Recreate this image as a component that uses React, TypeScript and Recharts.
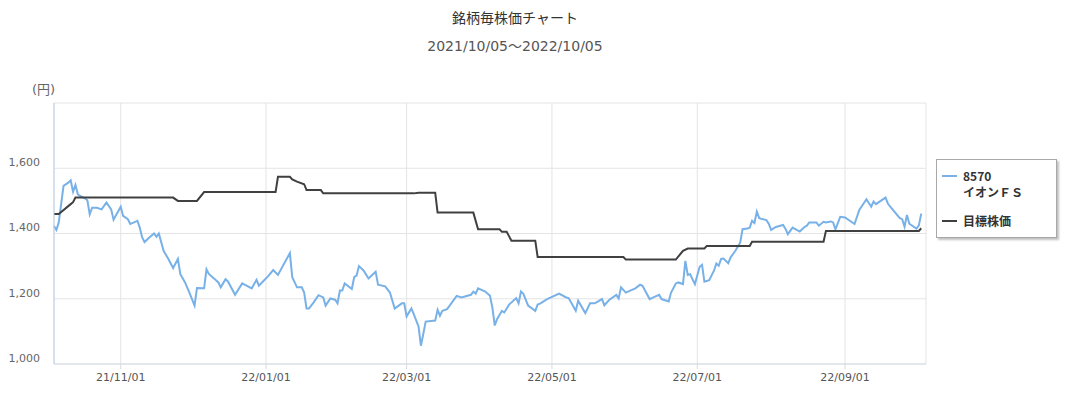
import { LineChart, Line, XAxis, YAxis, CartesianGrid, Legend } from 'recharts'

// 株価 (終値)
const priceDates = [
  '2021-10-04', '2021-10-05', '2021-10-06', '2021-10-08', '2021-10-10', '2021-10-11', '2021-10-12', '2021-10-13',
  '2021-10-14', '2021-10-15', '2021-10-17', '2021-10-18', '2021-10-19', '2021-10-20', '2021-10-22', '2021-10-24',
  '2021-10-26', '2021-10-28', '2021-10-29', '2021-11-01', '2021-11-02', '2021-11-04', '2021-11-05', '2021-11-08',
  '2021-11-09', '2021-11-10', '2021-11-11', '2021-11-13', '2021-11-15', '2021-11-16', '2021-11-17', '2021-11-19',
  '2021-11-21', '2021-11-23', '2021-11-25', '2021-11-26', '2021-11-28', '2021-11-30', '2021-12-02', '2021-12-03',
  '2021-12-06', '2021-12-07', '2021-12-08', '2021-12-11', '2021-12-12', '2021-12-13', '2021-12-15', '2021-12-16',
  '2021-12-19', '2021-12-22', '2021-12-26', '2021-12-28', '2021-12-29', '2021-12-31', '2022-01-02', '2022-01-04',
  '2022-01-06', '2022-01-11', '2022-01-12', '2022-01-14', '2022-01-16', '2022-01-17', '2022-01-18', '2022-01-19',
  '2022-01-21', '2022-01-23', '2022-01-25', '2022-01-26', '2022-01-28', '2022-01-30', '2022-01-31', '2022-02-01',
  '2022-02-02', '2022-02-03', '2022-02-06', '2022-02-07', '2022-02-08', '2022-02-09', '2022-02-11', '2022-02-13',
  '2022-02-16', '2022-02-17', '2022-02-20', '2022-02-22', '2022-02-24', '2022-02-27', '2022-02-28', '2022-03-01',
  '2022-03-03', '2022-03-04', '2022-03-06', '2022-03-07', '2022-03-08', '2022-03-09', '2022-03-13', '2022-03-14',
  '2022-03-15', '2022-03-16', '2022-03-18', '2022-03-22', '2022-03-24', '2022-03-28', '2022-03-29', '2022-03-30',
  '2022-03-31', '2022-04-03', '2022-04-05', '2022-04-06', '2022-04-07', '2022-04-08', '2022-04-10', '2022-04-11',
  '2022-04-13', '2022-04-16', '2022-04-17', '2022-04-18', '2022-04-19', '2022-04-21', '2022-04-24', '2022-04-25',
  '2022-04-26', '2022-04-29', '2022-05-04', '2022-05-07', '2022-05-08', '2022-05-11', '2022-05-12', '2022-05-15',
  '2022-05-17', '2022-05-19', '2022-05-22', '2022-05-23', '2022-05-25', '2022-05-28', '2022-05-29', '2022-05-30',
  '2022-06-01', '2022-06-05', '2022-06-07', '2022-06-08', '2022-06-11', '2022-06-13', '2022-06-15', '2022-06-16',
  '2022-06-19', '2022-06-20', '2022-06-22', '2022-06-23', '2022-06-25', '2022-06-26', '2022-06-27', '2022-06-28',
  '2022-06-30', '2022-07-02', '2022-07-03', '2022-07-04', '2022-07-06', '2022-07-08', '2022-07-09', '2022-07-10',
  '2022-07-11', '2022-07-12', '2022-07-14', '2022-07-15', '2022-07-17', '2022-07-19', '2022-07-20', '2022-07-22',
  '2022-07-23', '2022-07-24', '2022-07-25', '2022-07-26', '2022-07-27', '2022-07-30', '2022-07-31', '2022-08-01',
  '2022-08-03', '2022-08-06', '2022-08-07', '2022-08-08', '2022-08-10', '2022-08-13', '2022-08-15', '2022-08-16',
  '2022-08-17', '2022-08-20', '2022-08-21', '2022-08-23', '2022-08-24', '2022-08-26', '2022-08-27', '2022-08-28',
  '2022-08-30', '2022-09-01', '2022-09-05', '2022-09-07', '2022-09-10', '2022-09-12', '2022-09-13', '2022-09-14',
  '2022-09-18', '2022-09-19', '2022-09-20', '2022-09-24', '2022-09-25', '2022-09-26', '2022-09-27', '2022-09-28',
  '2022-10-01', '2022-10-02', '2022-10-03',
]
const prices = [
  1423, 1411, 1434, 1546, 1556, 1563, 1528, 1549,
  1520, 1515, 1508, 1502, 1459, 1479, 1479, 1474,
  1495, 1474, 1442, 1482, 1454, 1444, 1429, 1439,
  1418, 1388, 1374, 1388, 1400, 1390, 1400, 1347,
  1322, 1294, 1322, 1276, 1250, 1216, 1179, 1233,
  1232, 1290, 1276, 1257, 1250, 1235, 1260, 1253,
  1212, 1247, 1232, 1258, 1240, 1255, 1270, 1288,
  1273, 1340, 1266, 1235, 1235, 1219, 1170, 1170,
  1189, 1211, 1204, 1179, 1201, 1197, 1186, 1225,
  1225, 1247, 1230, 1266, 1271, 1300, 1286, 1262,
  1283, 1243, 1238, 1219, 1170, 1186, 1186, 1146,
  1170, 1153, 1115, 1056, 1092, 1130, 1133, 1166,
  1148, 1163, 1168, 1209, 1204, 1212, 1222, 1216,
  1232, 1222, 1209, 1173, 1118, 1138, 1163, 1158,
  1182, 1202, 1186, 1222, 1215, 1179, 1163, 1182,
  1185, 1199, 1216, 1204, 1202, 1163, 1194, 1156,
  1186, 1186, 1199, 1180, 1196, 1212, 1201, 1235,
  1219, 1232, 1243, 1240, 1199, 1206, 1212, 1199,
  1192, 1219, 1247, 1250, 1245, 1316, 1273, 1275,
  1245, 1298, 1304, 1252, 1257, 1286, 1308, 1301,
  1322, 1323, 1309, 1327, 1347, 1372, 1413, 1415,
  1418, 1439, 1432, 1467, 1447, 1441, 1430, 1411,
  1420, 1426, 1415, 1398, 1418, 1406, 1420, 1424,
  1434, 1434, 1424, 1436, 1434, 1437, 1434, 1413,
  1451, 1449, 1429, 1472, 1505, 1482, 1498, 1490,
  1510, 1492, 1482, 1447, 1444, 1421, 1457, 1430,
  1415, 1425, 1461,
]

// 目標株価
const targetDates = [
  '2021-10-04', '2021-10-06', '2021-10-11', '2021-10-12', '2021-10-13', '2021-11-23', '2021-11-25', '2021-12-03',
  '2021-12-06', '2022-01-05', '2022-01-06', '2022-01-11', '2022-01-12', '2022-01-14', '2022-01-17', '2022-01-18',
  '2022-01-24', '2022-01-25', '2022-03-04', '2022-03-06', '2022-03-13', '2022-03-14', '2022-03-29', '2022-03-31',
  '2022-04-09', '2022-04-10', '2022-04-12', '2022-04-14', '2022-04-24', '2022-04-25', '2022-05-31', '2022-06-01',
  '2022-06-22', '2022-06-25', '2022-06-27', '2022-07-04', '2022-07-05', '2022-07-23', '2022-07-24', '2022-08-23',
  '2022-08-24', '2022-10-02', '2022-10-03',
]
const targetPrices = [
  1460, 1460, 1490, 1496, 1510, 1510, 1500, 1500,
  1527, 1527, 1574, 1574, 1566, 1559, 1551, 1533,
  1533, 1523, 1523, 1525, 1525, 1464, 1464, 1413,
  1413, 1405, 1405, 1378, 1378, 1328, 1328, 1320,
  1320, 1347, 1354, 1354, 1362, 1362, 1375, 1375,
  1408, 1408, 1416,
]

const xStart = '2021-10-04'
const xEnd = '2022-10-05'
const xTicks = ['2021-11-01', '2022-01-01', '2022-03-01', '2022-05-01', '2022-07-01', '2022-09-01']
const yTicks = [1000, 1200, 1400, 1600]
const yDomain = [1000, 1800]

const JP_FONT = '"Noto Sans CJK JP", "DejaVu Sans", sans-serif'
const NUM_FONT = '"DejaVu Sans", "Noto Sans CJK JP", sans-serif'

const toTime = (s: string) => Date.parse(s + 'T00:00:00Z')

const priceData = priceDates.map((d, i) => ({ t: toTime(d), value: prices[i] }))
const targetData = targetDates.map((d, i) => ({ t: toTime(d), value: targetPrices[i] }))

function formatDate(v: number) {
  const d = new Date(v)
  const pad = (n: number) => String(n).padStart(2, '0')
  return `${String(d.getUTCFullYear()).slice(2)}/${pad(d.getUTCMonth() + 1)}/${pad(d.getUTCDate())}`
}

function YTick(props: any) {
  const { x, y, payload } = props
  return (
    <text x={x} y={y - 6} dy="0.35em" textAnchor="end" fontSize={11} fill="#666" fontFamily={NUM_FONT}>
      {Number(payload.value).toLocaleString('en-US')}
    </text>
  )
}

function ChartLegend({ payload }: any) {
  return (
    <div
      style={{
        width: 121,
        height: 79,
        boxSizing: 'border-box',
        border: '1px solid #a8a8a8',
        boxShadow: '2px 2px 2px rgba(0,0,0,0.25)',
        background: '#fff',
        padding: '8px 0 0 5px',
        fontFamily: JP_FONT,
        fontSize: 12,
        fontWeight: 'bold',
        color: '#333',
      }}
    >
      {(payload || []).map((entry: any, i: number) => (
        <div key={i} style={{ display: 'flex', alignItems: 'flex-start', marginBottom: 13 }}>
          <div style={{ width: 15, height: 2, marginTop: 7, background: entry.color }} />
          <div style={{ marginLeft: 6, lineHeight: '16px' }}>
            {String(entry.value).split('\n').map((line, j) => (
              <div key={j}>{line}</div>
            ))}
          </div>
        </div>
      ))}
    </div>
  )
}

export default function App() {
  return (
    <div style={{ position: 'absolute', left: 0, top: 0, width: 1080, height: 405, background: '#fff' }}>
      <div
        style={{
          position: 'absolute',
          left: 0,
          width: 1030,
          top: 7,
          textAlign: 'center',
          fontFamily: JP_FONT,
          fontSize: 14,
          color: '#333',
        }}
      >
        銘柄毎株価チャート
      </div>
      <div
        style={{
          position: 'absolute',
          left: 0,
          width: 1030,
          top: 35,
          textAlign: 'center',
          fontFamily: NUM_FONT,
          fontSize: 14,
          color: '#555',
        }}
      >
        2021/10/05～2022/10/05
      </div>
      <div
        style={{
          position: 'absolute',
          left: 32,
          top: 79,
          fontFamily: NUM_FONT,
          fontSize: 13,
          color: '#666',
        }}
      >
        (円)
      </div>
      <div style={{ position: 'absolute', left: 0, top: 0 }}>
        <LineChart width={1080} height={405} margin={{ top: 103, right: 154, bottom: 0, left: 0 }}>
          <CartesianGrid stroke="#e4e4e4" vertical horizontal />
          <XAxis
            dataKey="t"
            type="number"
            domain={[toTime(xStart), toTime(xEnd)]}
            ticks={xTicks.map(toTime)}
            tickFormatter={formatDate}
            height={41}
            stroke="#d5dbe4"
            tickSize={5}
            tickMargin={4}
            tick={{ fontSize: 11, fill: '#555', fontFamily: NUM_FONT }}
            allowDuplicatedCategory={false}
          />
          <YAxis
            type="number"
            domain={yDomain}
            ticks={yTicks}
            width={54}
            stroke="#bcd0ea"
            tickLine={false}
            tick={<YTick />}
            tickMargin={8}
          />
          <Legend
            layout="horizontal"
            align="center"
            verticalAlign="middle"
            wrapperStyle={{ left: 936, top: 159, width: 121, height: 79 }}
            content={<ChartLegend />}
          />
          <Line
            data={priceData}
            dataKey="value"
            name={'8570\nイオンＦＳ'}
            type="linear"
            stroke="#78b1e8"
            strokeWidth={2}
            dot={false}
            isAnimationActive={false}
          />
          <Line
            data={targetData}
            dataKey="value"
            name="目標株価"
            type="linear"
            stroke="#404040"
            strokeWidth={2}
            dot={false}
            isAnimationActive={false}
          />
        </LineChart>
      </div>
    </div>
  )
}
